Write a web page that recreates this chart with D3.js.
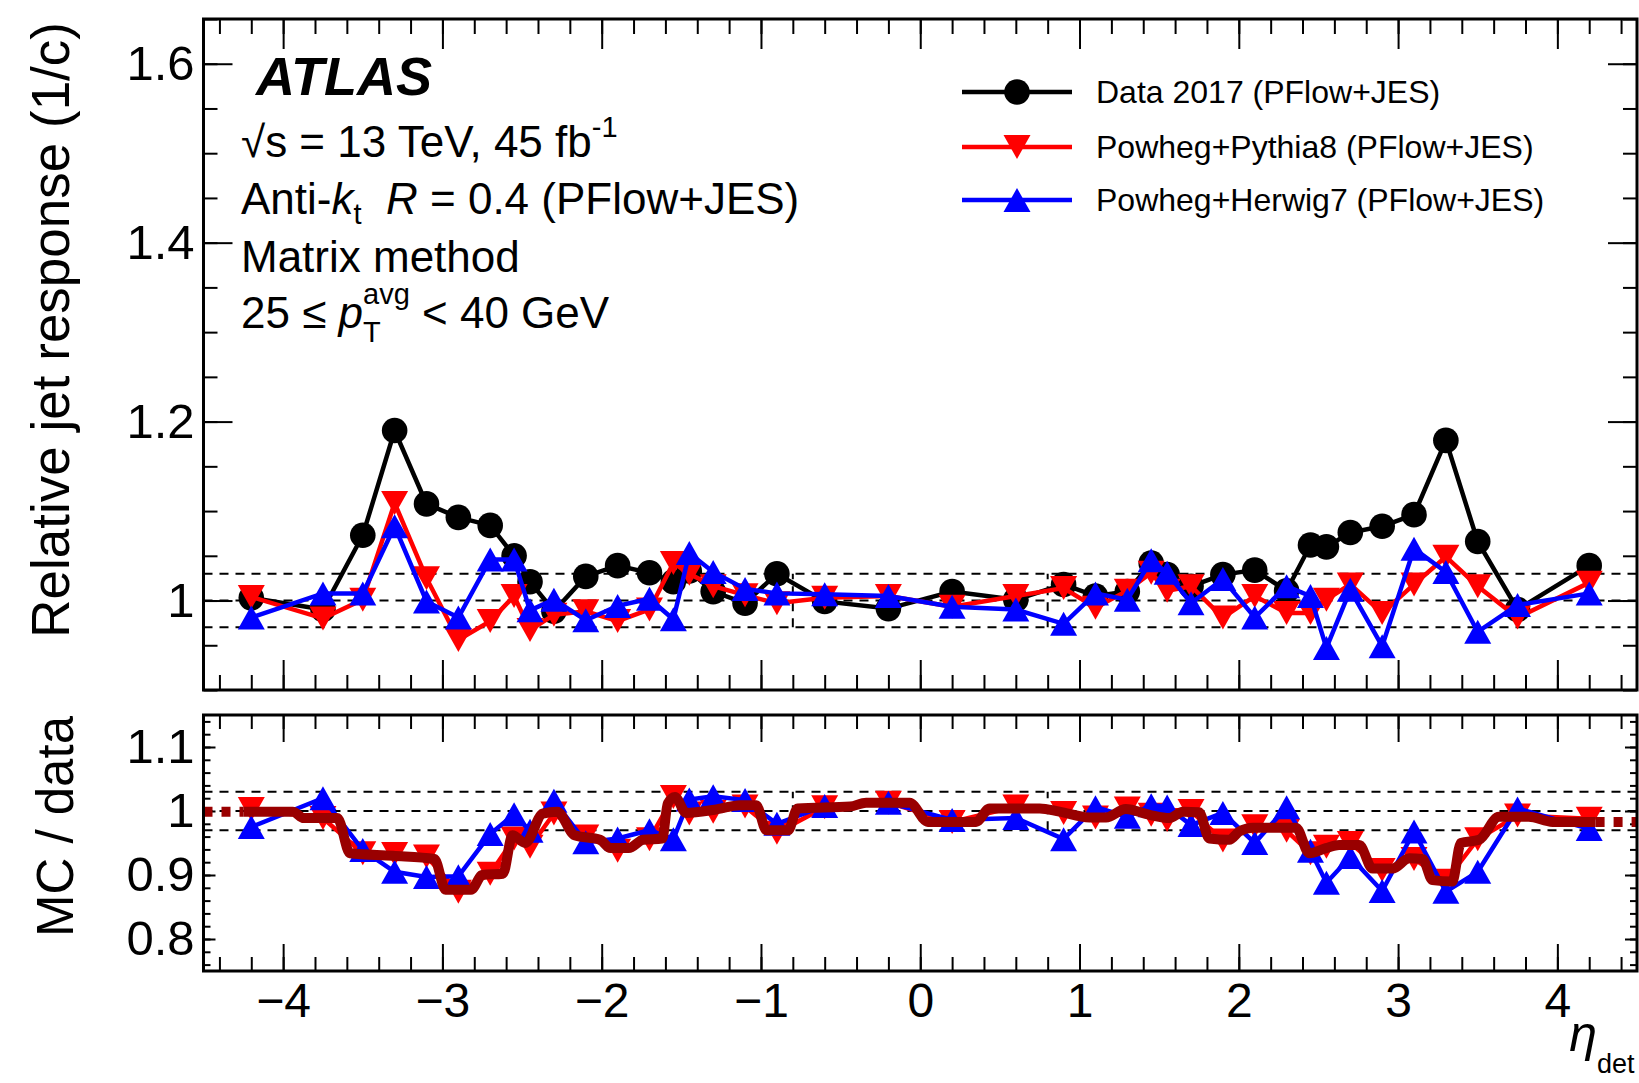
<!DOCTYPE html>
<html>
<head>
<meta charset="utf-8">
<script src="https://cdn.jsdelivr.net/npm/d3@7"></script>
<style>
  body { margin: 0; background: #fff; }
  svg { display: block; }
  text { font-family: "Liberation Sans", Arial, Helvetica, sans-serif; fill: #000; }
</style>
</head>
<body>
<div id="chart"></div>
<script>
// eta bin centres shared by all series
const etaBins = [-4.2, -3.75, -3.5, -3.3, -3.1, -2.9, -2.7, -2.55, -2.45, -2.3, -2.1, -1.9, -1.7, -1.55, -1.45, -1.3, -1.1, -0.9, -0.6, -0.2,
                 0.2, 0.6, 0.9, 1.1, 1.3, 1.45, 1.55, 1.7, 1.9, 2.1, 2.3, 2.45, 2.55, 2.7, 2.9, 3.1, 3.3, 3.5, 3.75, 4.2];

// relative jet response, top panel
const dataResp = [1.003, 0.990, 1.073, 1.190, 1.108, 1.093, 1.084, 1.050, 1.021, 0.988, 1.027, 1.039, 1.031, 1.021, 1.033, 1.010, 0.997, 1.030, 0.999, 0.991,
                  1.010, 1.001, 1.018, 1.005, 1.010, 1.042, 1.029, 1.016, 1.029, 1.034, 1.011, 1.062, 1.060, 1.076, 1.083, 1.096, 1.179, 1.066, 0.990, 1.039];
const pythiaResp = [1.004, 0.980, 1.001, 1.109, 1.025, 0.956, 0.977, 1.005, 0.967, 0.984, 0.988, 0.977, 0.990, 1.042, 1.030, 1.016, 1.006, 0.997, 1.003, 1.005,
                    0.993, 1.005, 1.014, 0.992, 1.011, 1.031, 1.011, 1.016, 0.981, 1.005, 0.986, 0.986, 1.001, 1.018, 0.986, 1.018, 1.049, 1.016, 0.981, 1.020];
const herwigResp = [0.981, 1.008, 1.008, 1.083, 0.999, 0.981, 1.046, 1.046, 0.989, 1.001, 0.978, 0.994, 1.002, 0.979, 1.053, 1.032, 1.013, 1.008, 1.007, 1.005,
                    0.993, 0.990, 0.974, 1.008, 1.001, 1.045, 1.031, 0.997, 1.024, 0.981, 1.016, 1.005, 0.947, 1.012, 0.949, 1.058, 1.032, 0.965, 0.995, 1.008];

// MC / data, bottom panel
const pythiaRatio = [1.003, 0.989, 0.934, 0.933, 0.929, 0.874, 0.902, 0.957, 0.944, 0.996, 0.960, 0.938, 0.956, 1.022, 0.996, 0.999, 1.007, 0.966, 1.006, 1.013,
                     0.983, 1.007, 0.997, 0.990, 1.004, 0.994, 0.986, 1.000, 0.954, 0.976, 0.969, 0.934, 0.944, 0.950, 0.908, 0.925, 0.891, 0.956, 0.993, 0.988];
const herwigRatio = [0.975, 1.020, 0.939, 0.905, 0.897, 0.898, 0.964, 0.995, 0.969, 1.016, 0.951, 0.957, 0.970, 0.956, 1.018, 1.023, 1.017, 0.980, 1.008, 1.013,
                     0.986, 0.989, 0.956, 1.006, 0.991, 1.009, 1.007, 0.978, 0.997, 0.950, 1.006, 0.938, 0.888, 0.928, 0.875, 0.968, 0.874, 0.905, 1.004, 0.972];

// smoothed calibration curve (dark red)
const calibEta = [-4.25, -3.94, -3.87, -3.66, -3.58, -3.31, -3.05, -2.98, -2.82, -2.75, -2.62, -2.56, -2.48, -2.37, -2.28, -2.17, -2.01, -1.945, -1.83, -1.74,
                  -1.62, -1.585, -1.54, -1.47, -1.29, -1.13, -1.03, -0.966, -0.83, -0.77, -0.44, -0.34, -0.067, 0.048, 0.35, 0.435, 0.75, 0.874, 1.062, 1.167,
                  1.29, 1.44, 1.564, 1.65, 1.75, 1.815, 1.94, 2.003, 2.087, 2.359, 2.442, 2.547, 2.63, 2.756, 2.84, 2.965, 3.07, 3.153, 3.216, 3.34,
                  3.394, 3.509, 3.634, 3.82, 3.97, 4.24];
const calibRatio = [0.999, 0.999, 0.989, 0.989, 0.934, 0.930, 0.925, 0.877, 0.877, 0.900, 0.902, 0.962, 0.950, 0.996, 0.999, 0.962, 0.955, 0.942, 0.942, 0.955,
                    0.957, 1.012, 1.022, 0.997, 1.002, 1.009, 1.009, 0.970, 0.970, 1.004, 1.007, 1.013, 1.013, 0.983, 0.983, 1.004, 1.004, 0.999, 0.990, 0.990,
                    1.003, 0.994, 0.989, 0.999, 0.998, 0.957, 0.955, 0.968, 0.974, 0.974, 0.934, 0.942, 0.947, 0.947, 0.910, 0.910, 0.926, 0.925, 0.892, 0.890,
                    0.950, 0.955, 0.991, 0.991, 0.983, 0.983];

// ticks and reference lines
const xMajorTicks = [-4, -3, -2, -1, 0, 1, 2, 3, 4];
const yTopTicks = [1, 1.2, 1.4, 1.6];
const yBotTicks = [0.8, 0.9, 1, 1.1];
const refLines = [0.97, 1, 1.03];
const refEdges = [-0.8, 0.8];

const legendLabels = ['Data 2017 (PFlow+JES)', 'Powheg+Pythia8 (PFlow+JES)', 'Powheg+Herwig7 (PFlow+JES)'];

const width = 1639, height = 1083;
const svg = d3.select('#chart').append('svg')
  .attr('width', width)
  .attr('height', height);
svg.append('rect').attr('width', width).attr('height', height).attr('fill', '#fff');

const x = d3.scaleLinear().domain([-4.5, 4.5]).range([203.5, 1637]);
const yTop = d3.scaleLinear().domain([0.9, 1.65]).range([690, 19]);
const yBot = d3.scaleLinear().domain([0.75, 1.15]).range([971, 715]);

const xMinorTicks = d3.range(-44, 45, 2).map(d => d / 10);
const tickFmt = d => String(d);

// marker paths, centred on the bounding box like ROOT markers
const triUp = (w, h) => `M0,${-h / 2}L${w / 2},${h / 2}L${-w / 2},${h / 2}Z`;
const triDown = (w, h) => `M0,${h / 2}L${w / 2},${-h / 2}L${-w / 2},${-h / 2}Z`;
const markerPath = {
  circle: d3.symbol(d3.symbolCircle, Math.PI * 12.8 * 12.8)(),
  down: triDown(27, 24),
  up: triUp(27, 24)
};

function styleTicks(sel) {
  sel.select('.domain').remove();
  sel.selectAll('line').attr('stroke', '#000').attr('stroke-width', 2);
}

function drawPanel(yScale, cfg) {
  const g = svg.append('g');
  const [x0, x1] = x.range();
  const [yb, yt] = yScale.range();

  // x ticks, bottom and top, inward
  [[d3.axisBottom, yb], [d3.axisTop, yt]].forEach(([ax, pos]) => {
    g.append('g').attr('transform', `translate(0,${pos})`)
      .call(ax(x).tickValues(xMinorTicks).tickSize(-cfg.xMinor).tickFormat(''))
      .call(styleTicks);
    const major = g.append('g').attr('transform', `translate(0,${pos})`)
      .call(ax(x).tickValues(xMajorTicks).tickSize(-cfg.xMajor)
        .tickPadding(12).tickFormat(cfg.xLabels && ax === d3.axisBottom ? d3.format('d') : ''))
      .call(styleTicks);
    major.selectAll('text').style('font-size', '48px').attr('fill', '#000');
  });

  // y ticks, left and right, inward
  [[d3.axisLeft, x0], [d3.axisRight, x1]].forEach(([ax, pos]) => {
    g.append('g').attr('transform', `translate(${pos},0)`)
      .call(ax(yScale).tickValues(cfg.yMinorTicks).tickSize(-cfg.yMinor).tickFormat(''))
      .call(styleTicks);
    const major = g.append('g').attr('transform', `translate(${pos},0)`)
      .call(ax(yScale).tickValues(cfg.yTicks).tickSize(-cfg.yMajor)
        .tickPadding(9).tickFormat(ax === d3.axisLeft ? tickFmt : ''))
      .call(styleTicks);
    major.selectAll('text').style('font-size', '49px').attr('fill', '#000');
  });

  // dashed reference lines
  g.selectAll('.ref').data(refLines).join('line')
    .attr('x1', x0).attr('x2', x1)
    .attr('y1', d => yScale(d)).attr('y2', d => yScale(d))
    .attr('stroke', '#000').attr('stroke-width', 2).attr('stroke-dasharray', '9,7');
  g.selectAll('.edge').data(refEdges).join('line')
    .attr('x1', d => x(d)).attr('x2', d => x(d))
    .attr('y1', yScale(0.97)).attr('y2', yScale(1.03))
    .attr('stroke', '#000').attr('stroke-width', 2).attr('stroke-dasharray', '9,7');
  return g;
}

function drawSeries(g, yScale, values, color, shape) {
  const pts = etaBins.map((e, i) => [e, values[i]]);
  g.append('path')
    .attr('d', d3.line().x(d => x(d[0])).y(d => yScale(d[1]))(pts))
    .attr('fill', 'none').attr('stroke', color).attr('stroke-width', 4.5);
  g.selectAll(null).data(pts).join('path')
    .attr('transform', d => `translate(${x(d[0])},${yScale(d[1])})`)
    .attr('d', markerPath[shape])
    .attr('fill', color);
}

const topG = drawPanel(yTop, {
  xMajor: 30, xMinor: 15, yMajor: 29, yMinor: 14,
  yTicks: yTopTicks, yMinorTicks: d3.range(18, 34).map(d => d * 0.05), xLabels: false
});
drawSeries(topG, yTop, dataResp, '#000', 'circle');
drawSeries(topG, yTop, pythiaResp, '#ff0000', 'down');
drawSeries(topG, yTop, herwigResp, '#0000ff', 'up');

const botG = drawPanel(yBot, {
  xMajor: 27, xMinor: 14, yMajor: 12, yMinor: 7,
  yTicks: yBotTicks, yMinorTicks: d3.range(38, 58).map(d => d * 0.02), xLabels: true
});
drawSeries(botG, yBot, pythiaRatio, '#ff0000', 'down');
drawSeries(botG, yBot, herwigRatio, '#0000ff', 'up');

// calibration curve, dotted where extrapolated
const calibPts = calibEta.map((e, i) => [e, calibRatio[i]]);
botG.append('path')
  .attr('d', d3.line().x(d => x(d[0])).y(d => yBot(d[1])).curve(d3.curveMonotoneX)(calibPts))
  .attr('fill', 'none').attr('stroke', '#990000').attr('stroke-width', 10);
const ends = [[[-4.5, calibRatio[0]], calibPts[0]], [calibPts[calibPts.length - 1], [4.5, calibRatio[calibRatio.length - 1]]]];
botG.selectAll(null).data(ends).join('line')
  .attr('x1', d => x(d[0][0])).attr('x2', d => x(d[1][0]))
  .attr('y1', d => yBot(d[0][1])).attr('y2', d => yBot(d[1][1]))
  .attr('stroke', '#990000').attr('stroke-width', 10).attr('stroke-dasharray', '9,9');

// frames
[yTop, yBot].forEach(s => {
  svg.append('rect')
    .attr('x', x.range()[0]).attr('y', s.range()[1])
    .attr('width', x.range()[1] - x.range()[0]).attr('height', s.range()[0] - s.range()[1])
    .attr('fill', 'none').attr('stroke', '#000').attr('stroke-width', 3);
});

// axis titles
svg.append('text')
  .attr('transform', 'translate(69,22) rotate(-90)')
  .attr('text-anchor', 'end').style('font-size', '53px')
  .text('Relative jet response (1/c)');
svg.append('text')
  .attr('transform', 'translate(73,716) rotate(-90)')
  .attr('text-anchor', 'end').style('font-size', '51px')
  .text('MC / data');
svg.append('text')
  .attr('x', 1597).attr('y', 1051).attr('text-anchor', 'end')
  .style('font-size', '50px').style('font-style', 'italic')
  .text('η');
svg.append('text')
  .attr('x', 1597).attr('y', 1073).style('font-size', '27px')
  .text('det');

// rich text: runs laid out left to right, "stack" puts sub and superscript at the same x
function richText(x0, y0, size, runs) {
  const g = svg.append('g');
  let cx = x0;
  runs.forEach(r => {
    const parts = r.stack || [r];
    let w = 0;
    parts.forEach(p => {
      const t = g.append('text')
        .attr('x', cx).attr('y', y0 + (p.dy || 0))
        .style('font-size', (p.size || size) + 'px')
        .style('font-style', p.italic ? 'italic' : null)
        .style('font-weight', p.bold ? 'bold' : null)
        .style('white-space', 'pre')
        .text(p.t);
      w = Math.max(w, t.node().getComputedTextLength());
    });
    cx += w;
  });
  return g;
}

richText(256, 95, 54, [{ t: 'ATLAS', bold: true, italic: true }]);
richText(241, 157, 44, [{ t: '√s = 13 TeV, 45 fb' }, { t: '-1', size: 29, dy: -20 }]);
richText(241, 214, 44, [{ t: 'Anti-' }, { t: 'k', italic: true }, { t: 't', size: 29, dy: 10 }, { t: '  ' },
  { t: 'R', italic: true }, { t: ' = 0.4 (PFlow+JES)' }]);
richText(241, 272, 44, [{ t: 'Matrix method' }]);
richText(241, 328, 44, [{ t: '25 ≤ ' }, { t: 'p', italic: true },
  { stack: [{ t: 'T', size: 29, dy: 14 }, { t: 'avg', size: 29, dy: -24 }] }, { t: ' < 40 GeV' }]);

// legend
const legendRows = [92, 147, 200];
const legendColors = ['#000', '#ff0000', '#0000ff'];
const legendShapes = ['circle', 'down', 'up'];
const leg = svg.append('g');
legendLabels.forEach((label, i) => {
  const y = legendRows[i];
  leg.append('line').attr('x1', 962).attr('x2', 1072).attr('y1', y).attr('y2', y)
    .attr('stroke', legendColors[i]).attr('stroke-width', 4.5);
  leg.append('path').attr('transform', `translate(1017,${y})`)
    .attr('d', markerPath[legendShapes[i]]).attr('fill', legendColors[i]);
  leg.append('text').attr('x', 1096).attr('y', y + 11).style('font-size', '32px').text(label);
});
</script>
</body>
</html>
